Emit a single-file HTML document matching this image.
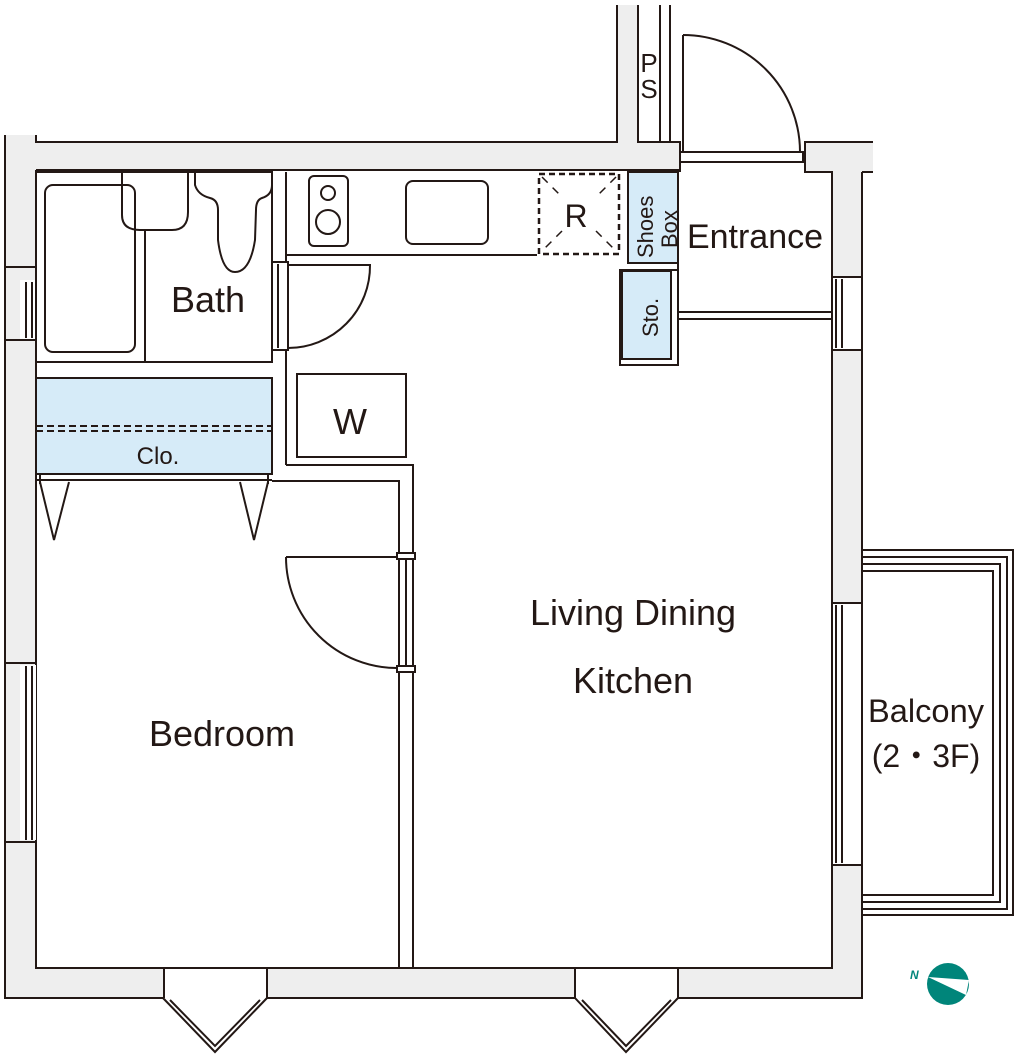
<!DOCTYPE html>
<html><head><meta charset="utf-8"><style>
html,body{margin:0;padding:0;background:#fff;}
svg{display:block;}
text{font-family:"Liberation Sans",sans-serif;fill:#231815;}
</style></head><body>
<svg width="1015" height="1058" viewBox="0 0 1015 1058" xmlns="http://www.w3.org/2000/svg">
<g stroke="#231815" stroke-width="2" fill="none">
<g fill="#eeeeee">
<path d="M36,142 L617,142 L617,5 L638,5 L638,142 L680,142 L680,170 L36,170 Z" stroke="none"/>
<path d="M5,135 L36,135 L36,998 L5,998 Z" stroke="none"/>
<path d="M805,142 L873,142 L873,172 L862,172 L862,998 L832,998 L832,172 L805,172 Z" stroke="none"/>
<path d="M36,968 L832,968 L832,998 L36,998 Z" stroke="none"/>
</g>
<path d="M5,135 L5,998 L163,998"/>
<path d="M36,135 L36,142 L617,142 L617,5"/>
<path d="M638,5 L638,142 L680,142 L680,170"/>
<path d="M36,170 L36,968 L832,968 L832,172 L805,172 L805,142 L873,142"/>
<path d="M862,172 L873,172"/>
<path d="M862,172 L862,998 L678,998"/>
<path d="M575,998 L267,998"/>
<line x1="36" y1="170" x2="680" y2="170"/>
<line x1="660" y1="5" x2="660" y2="142"/>
<line x1="670" y1="5" x2="670" y2="142"/>
<rect x="680" y="152" width="123" height="10" fill="#fff"/>
<line x1="680" y1="142" x2="680" y2="172"/>
<line x1="683" y1="35" x2="683" y2="152"/>
<path d="M683,35 A117,117 0 0 1 800,152"/>
<rect x="20" y="280" width="16" height="60" fill="#fff" stroke="none"/>
<path d="M5,267 L36,267 M5,340 L36,340 M26,282 L26,338 M32,282 L32,338"/>
<rect x="20" y="665" width="16" height="175" fill="#fff" stroke="none"/>
<path d="M5,663 L36,663 M5,842 L36,842 M26,666 L26,840 M32,666 L32,840"/>
<rect x="833" y="277" width="28" height="73" fill="#fff" stroke="none"/>
<path d="M832,277 L862,277 M832,350 L862,350 M836,279 L836,348 M842,279 L842,348"/>
<rect x="833" y="603" width="28" height="262" fill="#fff" stroke="none"/>
<path d="M832,603 L862,603 M832,865 L862,865 M836,605 L836,863 M842,605 L842,863"/>
<rect x="164" y="969" width="103" height="29" fill="#fff" stroke="none"/>
<path d="M164,968 L164,998 M267,968 L267,998 M163,998 L215,1052 L267,998 M170,1000 L215,1046 L260,1000"/>
<rect x="576" y="969" width="102" height="29" fill="#fff" stroke="none"/>
<path d="M575,968 L575,998 M678,968 L678,998 M575,998 L626,1052 L678,998 M582,1000 L626,1046 L671,1000"/>
<rect x="36" y="172" width="236" height="190"/>
<rect x="45" y="185" width="90" height="167" rx="8"/>
<line x1="145" y1="230" x2="145" y2="362"/>
<path d="M122,172 L122,215 Q122,230 140,230 L172,230 Q188,230 188,212 L188,172"/>
<path d="M195,172 L195,185 Q198,195 210,198 Q218,200 218,210 L218,240 Q222,272 235,272 Q250,272 255,240 L256,210 Q256,200 262,198 Q272,195 272,185"/>
<rect x="272" y="262" width="16" height="88" fill="#fff"/>
<line x1="278" y1="264" x2="278" y2="348"/>
<path d="M288,265 L370,265 A82,82 0 0 1 288,348"/>
<line x1="286" y1="172" x2="286" y2="262"/>
<line x1="286" y1="350" x2="286" y2="465"/>
<rect x="36" y="378" width="236" height="96" fill="#d6ebf8"/>
<path d="M36,426 L272,426 M36,431 L272,431" stroke-dasharray="7,4"/>
<line x1="36" y1="480" x2="272" y2="480"/>
<path d="M40,474 L40,484 M268,474 L268,484"/>
<path d="M40,482 L54,540 L69,482 M240,482 L254,540 L268,482"/>
<rect x="297" y="374" width="109" height="83"/>
<path d="M286,465 L413,465 L413,968"/>
<path d="M272,481 L399,481 L399,968"/>
<rect x="397" y="553" width="18" height="6" fill="#fff"/>
<rect x="397" y="666" width="18" height="6" fill="#fff"/>
<line x1="406" y1="559" x2="406" y2="666"/>
<path d="M286,557 L397,557 M286,557 A111,111 0 0 0 397,668"/>
<path d="M286,255 L537,255"/>
<rect x="309" y="176" width="39" height="70" rx="5"/>
<circle cx="328" cy="193" r="7"/>
<circle cx="328" cy="222" r="12"/>
<rect x="406" y="181" width="82" height="63" rx="7"/>
<rect x="539" y="174" width="80" height="80" stroke-dasharray="6,4" stroke-width="2.5"/>
<path d="M542,177 L562,197 M596,231 L616,251 M616,177 L596,197 M562,231 L542,251" stroke-dasharray="8,7" stroke-width="1.5"/>
<rect x="628" y="172" width="50" height="91" fill="#d6ebf8"/>
<rect x="620" y="270" width="58" height="95" fill="#fff"/>
<rect x="622" y="271" width="49" height="88" fill="#d6ebf8"/>
<path d="M678,172 L678,365"/>
<path d="M678,312 L832,312 M678,319 L832,319"/>
<path d="M862,550 L1013,550 L1013,915 L862,915"/>
<path d="M862,557 L1007,557 L1007,909 L862,909"/>
<path d="M862,564 L1000,564 L1000,902 L862,902"/>
<path d="M862,571 L993,571 L993,895 L862,895"/>
</g>
<circle cx="948" cy="984" r="21" fill="#00857a"/>
<path d="M928,977 L969,980 L966,995 Z" fill="#fff"/>
<text x="910" y="979" font-size="12" font-style="italic" font-weight="bold" style="fill:#00857a">N</text>
<text x="208" y="312" font-size="36" text-anchor="middle">Bath</text>
<text x="350" y="434" font-size="36" text-anchor="middle">W</text>
<text x="158" y="464" font-size="24" text-anchor="middle">Clo.</text>
<text x="576" y="227" font-size="32" text-anchor="middle">R</text>
<text x="755" y="248" font-size="34" text-anchor="middle">Entrance</text>
<text x="633" y="625" font-size="36" text-anchor="middle">Living Dining</text>
<text x="633" y="693" font-size="36" text-anchor="middle">Kitchen</text>
<text x="222" y="746" font-size="36" text-anchor="middle">Bedroom</text>
<text x="926" y="722" font-size="32" text-anchor="middle" textLength="116" lengthAdjust="spacingAndGlyphs">Balcony</text>
<text x="926" y="767" font-size="32" text-anchor="middle">(2・3F)</text>
<text x="649" y="72" font-size="26" text-anchor="middle">P</text>
<text x="649" y="98" font-size="26" text-anchor="middle">S</text>
<text transform="translate(653,258) rotate(-90)" font-size="22">Shoes</text>
<text transform="translate(677,248) rotate(-90)" font-size="22">Box</text>
<text transform="translate(658,337) rotate(-90)" font-size="22">Sto.</text>
</svg>
</body></html>
